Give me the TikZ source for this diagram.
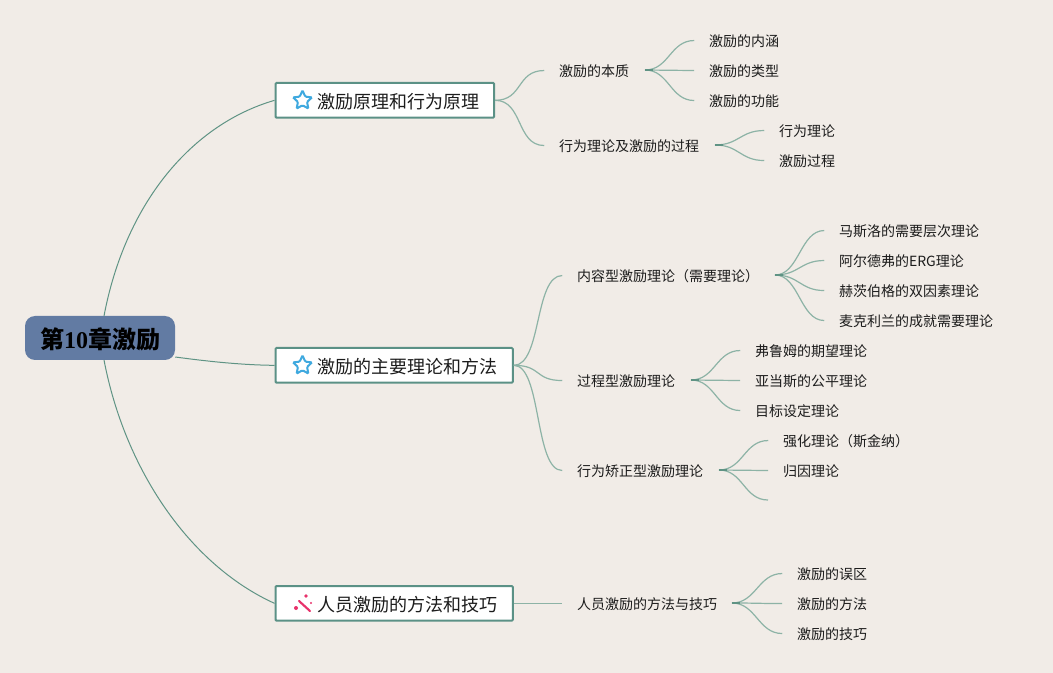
\documentclass[tikz,border=0pt]{standalone}
\usepackage{fontspec}
\setmainfont{Liberation Serif}
\newfontfamily\cjk{Noto Sans CJK SC}
\newfontfamily\cjkb{Noto Sans CJK SC Bold}
\usetikzlibrary{shapes.geometric,calc}
\definecolor{bg}{HTML}{F1ECE7}
\definecolor{rootc}{HTML}{627BA3}
\definecolor{edge}{HTML}{5F9384}
\definecolor{edgel}{HTML}{8DB3A6}
\definecolor{boxl}{HTML}{5B9186}
\definecolor{starc}{HTML}{3FA9DF}
\definecolor{wand}{HTML}{E8326B}
\definecolor{ink}{HTML}{1C1C1C}
\tikzset{
 x=0.75pt,y=-0.75pt,
 rootbox/.style={draw=none,fill=rootc,rounded corners=7.5pt,minimum width=112.5pt,minimum height=33pt,inner sep=0pt,text=black},
 branchbox/.style={draw=boxl,line width=1.5pt,fill=white,rounded corners=0.8pt,minimum height=26pt,inner sep=0pt,anchor=north west},
 leaf/.style={anchor=west,inner sep=0pt,text=ink,xshift=-0.2pt,yshift=-0.4pt,font=\fontsize{10.5pt}{12pt}\selectfont\cjk},
 btext/.style={anchor=west,inner sep=0pt,text=ink,xshift=-0.2pt,yshift=-0.4pt,font=\fontsize{13.5pt}{16pt}\selectfont\cjk},
 trunk/.style={draw=edge,line width=0.75pt},
 twig/.style={draw=edgel,line width=0.9pt},
 hubmark/.style={draw=edge,line width=1.1pt},
 staricon/.style={star,star points=5,star point ratio=2.1,draw=starc,line width=1.5pt,rounded corners=0.8pt,minimum size=15pt,inner sep=0pt},
}
\begin{document}
\begin{tikzpicture}
\useasboundingbox (0,0) rectangle (1053,673);
\fill[bg] (0,0) rectangle (1053,673);

% root and main branches
\node[rootbox] (root) at (100,338) {\raisebox{-8pt}[0pt][0pt]{\fontsize{18pt}{20pt}\selectfont\bfseries{\cjkb 第}10{\cjkb 章激励}}};
\node[branchbox,minimum width=164pt] (b1) at (274.5,82) {};
\node[branchbox,minimum width=178pt] (b2) at (274.5,347) {};
\node[branchbox,minimum width=178pt] (b3) at (274.5,585) {};
\node[staricon] (s1) at (302.5,100.5) {};
\node[staricon] (s2) at (302.5,365.5) {};
\node[btext] (t1) at (317,101) {激励原理和行为原理};
\node[btext] (t2) at (317,366) {激励的主要理论和方法};
\node[btext] (t3) at (317,604) {人员激励的方法和技巧};

% wand icon
\draw[wand,line width=1.6pt,line cap=round] (299,601) -- (310,611);
\fill[wand] (306,596) circle (1.8);
\fill[wand] (296,608) circle (2);
\fill[wand] (311,603) circle (1.1);

% second level
\node[leaf] (n1) at (559,71) {激励的本质};
\node[leaf] (n2) at (559,146) {行为理论及激励的过程};
\node[leaf] (n3) at (577,276) {内容型激励理论（需要理论）};
\node[leaf] (n4) at (577,381) {过程型激励理论};
\node[leaf] (n5) at (577,471) {行为矫正型激励理论};
\node[leaf] (n6) at (577,604) {人员激励的方法与技巧};

% leaves
\node[leaf] (l1) at (709,41) {激励的内涵};
\node[leaf] (l2) at (709,71) {激励的类型};
\node[leaf] (l3) at (709,101) {激励的功能};
\node[leaf] (l4) at (779,131) {行为理论};
\node[leaf] (l5) at (779,161) {激励过程};
\node[leaf] (l6) at (839,231) {马斯洛的需要层次理论};
\node[leaf] (l7) at (839,261) {阿尔德弗的ERG理论};
\node[leaf] (l8) at (839,291) {赫茨伯格的双因素理论};
\node[leaf] (l9) at (839,321) {麦克利兰的成就需要理论};
\node[leaf] (l10) at (755,351) {弗鲁姆的期望理论};
\node[leaf] (l11) at (755,381) {亚当斯的公平理论};
\node[leaf] (l12) at (755,411) {目标设定理论};
\node[leaf] (l13) at (783,441) {强化理论（斯金纳）};
\node[leaf] (l14) at (783,471) {归因理论};
\node[leaf] (l15) at (797,574) {激励的误区};
\node[leaf] (l16) at (797,604) {激励的方法};
\node[leaf] (l17) at (797,634) {激励的技巧};

% free ends and hubs
\coordinate (blank) at (768,500);
\coordinate (rt) at (104,316);
\coordinate (rb) at (104,360);
\coordinate (h1) at (645,70);
\coordinate (h2) at (715,145);
\coordinate (h3) at (775,275);
\coordinate (h4) at (691,380);
\coordinate (h5) at (719,470);
\coordinate (h6) at (732,603);

% root connectors
\draw[trunk] (rt) .. controls (125,205) and (190,125) .. (b1.west);
\draw[trunk] (root.east |- 0,357) .. controls (205,361) and (240,365) .. (b2.west);
\draw[trunk] (rb) .. controls (125,470) and (190,565) .. (b3.west);

% branch to second level
\draw[twig] (b1.east) .. controls +(28,0) and +(-28,0) .. ($(n1.west)+(-14.5,-1)$);
\draw[twig] (b1.east) .. controls +(28,0) and +(-28,0) .. ($(n2.west)+(-14.5,-1)$);
\draw[twig] (b2.east) .. controls +(28,0) and +(-28,0) .. ($(n3.west)+(-14.5,-1)$);
\draw[twig] (b2.east) .. controls +(28,0) and +(-28,0) .. ($(n4.west)+(-14.5,-1)$);
\draw[twig] (b2.east) .. controls +(28,0) and +(-28,0) .. ($(n5.west)+(-14.5,-1)$);
\draw[twig] (b3.east) -- (b3.east -| {$(n6.west)+(-14.5,0)$});

% second level to leaves
\foreach \h/\l in {h1/l1,h1/l2,h1/l3,h2/l4,h2/l5,h3/l6,h3/l7,h3/l8,h3/l9,h4/l10,h4/l11,h4/l12,h5/l13,h5/l14,h6/l15,h6/l16,h6/l17}
  \draw[twig] (\h) .. controls +(24,0) and +(-24,0) .. ($(\l.west)+(-14.5,-1)$);
\draw[twig] (h5) .. controls +(24,0) and +(-24,0) .. (blank);
\foreach \h in {h1,h2,h3,h4,h5,h6}
  \draw[hubmark] (\h) -- +(8,0);
\end{tikzpicture}
\end{document}
